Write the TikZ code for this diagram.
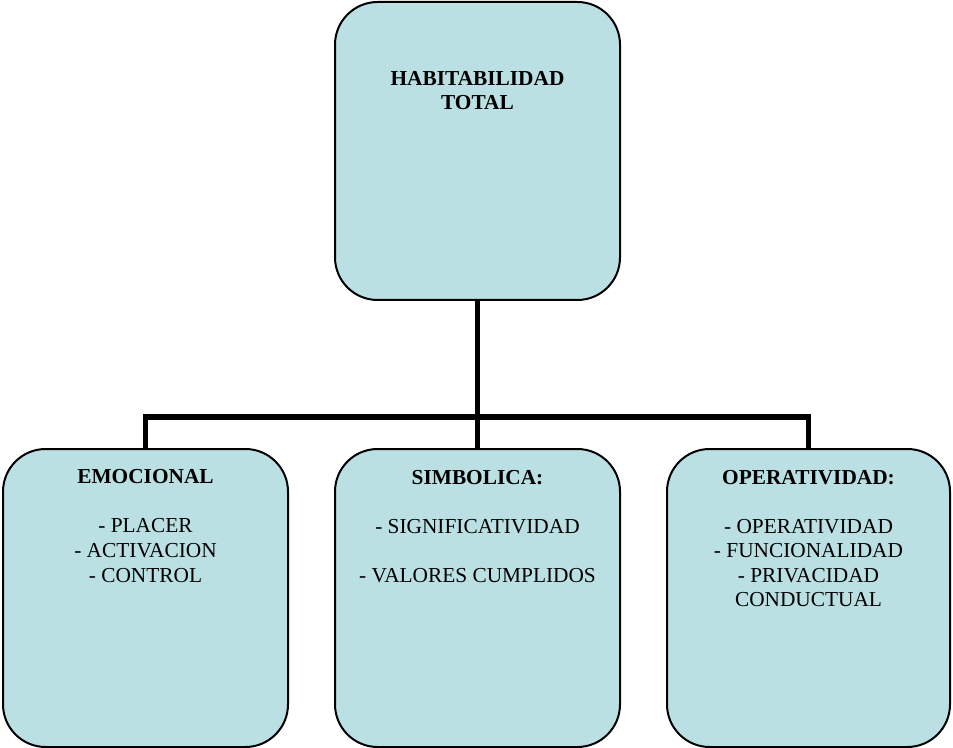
\documentclass[tikz,border=0pt]{standalone}
\usepackage{fontspec}
\setmainfont{Liberation Serif}
\usetikzlibrary{fit}
\definecolor{boxfill}{RGB}{187,224,227}
\tikzset{
  box/.style={draw=black, line width=1.5pt, fill=boxfill, rounded corners=32pt, inner sep=0pt},
  conn/.style={draw=black, line width=3.8pt},
  lbl/.style={align=center, font=\fontsize{16}{18.4}\selectfont, inner sep=0pt}
}
\begin{document}
\begin{tikzpicture}[x=0.75pt, y=-0.75pt]
\useasboundingbox (0,0) rectangle (953,748);
\node[box, fit={(335,2) (620,300)}] (top) {};
\node[box, fit={(3,449) (288,747)}] (emo) {};
\node[box, fit={(335,449) (620,747)}] (sim) {};
\node[box, fit={(667,449) (950,747)}] (ope) {};
\coordinate (bus) at (477.5,417);
\draw[conn] (top.south) -- (bus);
\draw[conn] (emo.north) |- (bus) -| (ope.north);
\draw[conn] (bus) -- (sim.north);
\node[lbl] (toptxt) at (477.5,90.5) {\textbf{HABITABILIDAD}\\\textbf{TOTAL}};
\node[lbl] (emotxt) at (145.5,526) {\textbf{EMOCIONAL}\\[18.4pt]- PLACER\\- ACTIVACION\\- CONTROL};
\node[lbl] (simtxt) at (477.5,526.5) {\textbf{SIMBOLICA:}\\[18.4pt]- SIGNIFICATIVIDAD\\[18.4pt]- VALORES CUMPLIDOS};
\node[lbl] (opetxt) at (808.5,538.5) {\textbf{OPERATIVIDAD:}\\[18.4pt]- OPERATIVIDAD\\- FUNCIONALIDAD\\- PRIVACIDAD\\CONDUCTUAL};
\end{tikzpicture}
\end{document}
